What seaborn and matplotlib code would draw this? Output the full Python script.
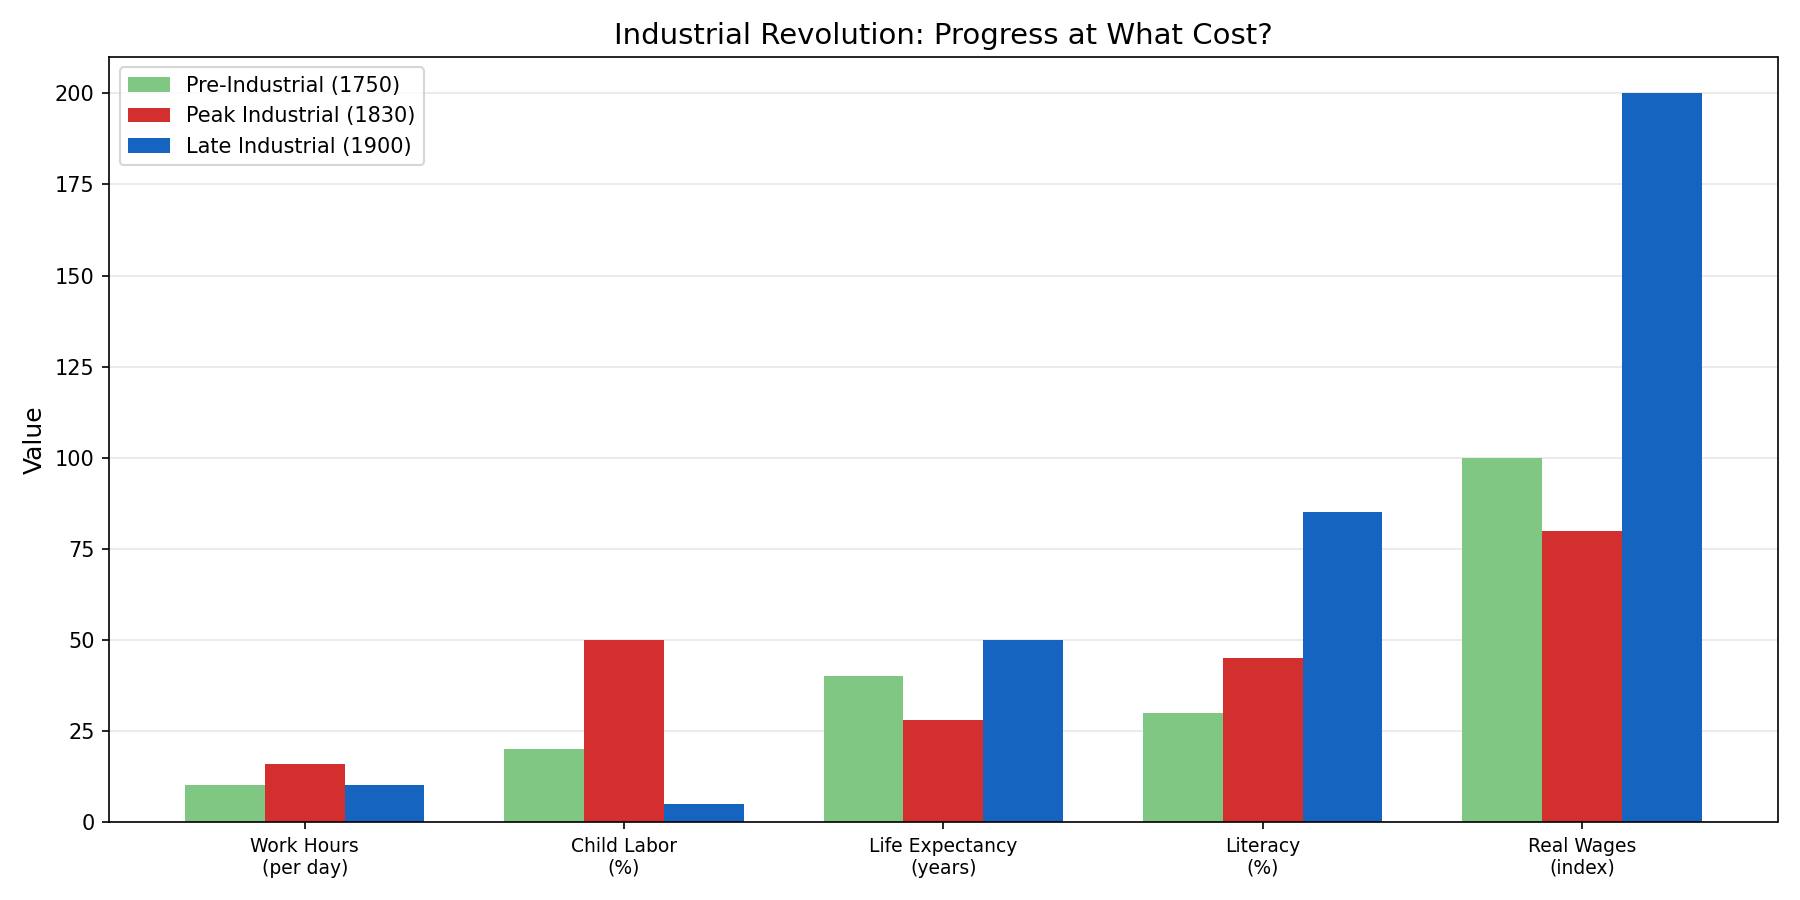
import matplotlib
matplotlib.use("Agg")
import matplotlib.pyplot as plt
import pandas as pd
import seaborn as sns

CATEGORIES = [
    "Work Hours\n(per day)",
    "Child Labor\n(%)",
    "Life Expectancy\n(years)",
    "Literacy\n(%)",
    "Real Wages\n(index)",
]
PERIODS = ["Pre-Industrial (1750)", "Peak Industrial (1830)", "Late Industrial (1900)"]
PRE_INDUSTRIAL = [10, 20, 40, 30, 100]
PEAK_INDUSTRIAL = [16, 50, 28, 45, 80]
LATE_INDUSTRIAL = [10, 5, 50, 85, 200]
COLORS = ["#81c784", "#d32f2f", "#1565c0"]


def build_frame():
    rows = []
    for period, values in zip(PERIODS, [PRE_INDUSTRIAL, PEAK_INDUSTRIAL, LATE_INDUSTRIAL]):
        for cat, v in zip(CATEGORIES, values):
            rows.append({"Indicator": cat, "Period": period, "Value": v})
    return pd.DataFrame(rows)


def main():
    df = build_frame()
    fig, ax = plt.subplots(figsize=(12, 6), dpi=150)
    sns.barplot(
        data=df,
        x="Indicator",
        y="Value",
        hue="Period",
        order=CATEGORIES,
        hue_order=PERIODS,
        palette=COLORS,
        saturation=1,
        width=0.75,
        gap=0,
        errorbar=None,
        ax=ax,
    )
    ax.set_axisbelow(True)
    ax.yaxis.grid(True, alpha=0.3)
    ax.set_xlim(-0.6125, 4.6125)
    ax.set_ylim(0, 210)
    ax.set_xlabel("")
    ax.set_ylabel("Value", fontsize=12)
    ax.set_title("Industrial Revolution: Progress at What Cost?", fontsize=14)
    ax.tick_params(axis="x", labelsize=9)
    ax.legend(loc="upper left", fontsize=10)
    plt.tight_layout()
    plt.savefig("out.png", dpi=150)
    plt.close()


if __name__ == "__main__":
    main()
